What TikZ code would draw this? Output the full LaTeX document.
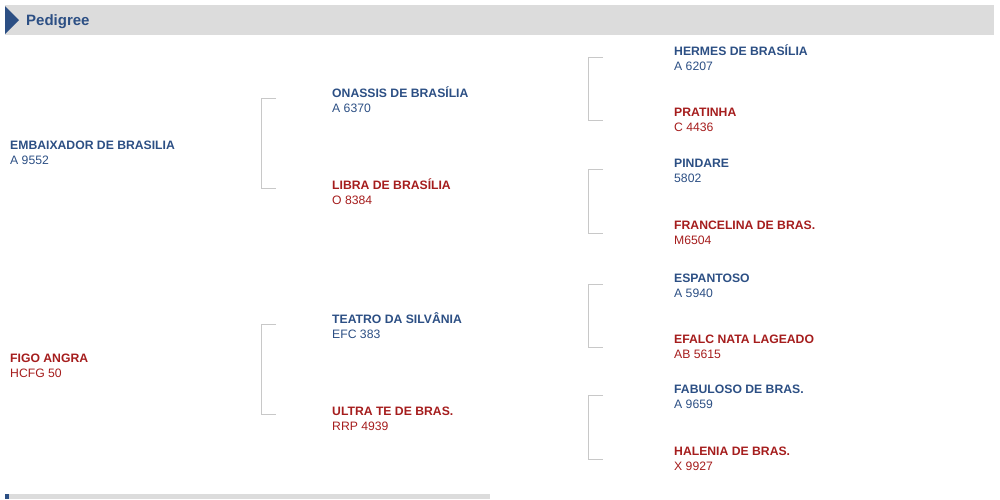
\documentclass[tikz,border=0pt]{standalone}
\usepackage{fontspec}
\setmainfont{Liberation Sans}
\usetikzlibrary{calc}

\definecolor{pedblue}{HTML}{2C4F84}
\definecolor{pedred}{HTML}{A51D1D}
\definecolor{bargrey}{HTML}{DCDCDC}
\definecolor{linegrey}{HTML}{C8C8C8}

\tikzset{%
  every horse/.style={
    anchor=base west,
    inner sep=0pt,
    font=\fontsize{12.2}{14}\selectfont\bfseries
  },
  horse reg/.style={
    anchor=base west,
    inner sep=0pt,
    font=\fontsize{12.2}{14}\selectfont
  },
  horse m/.style={text=pedblue},
  horse f/.style={text=pedred},
  bracket/.style={
    draw=linegrey,
    line width=1pt
  },
}

\begin{document}
\begin{tikzpicture}[x=1pt, y=-1pt]
            \useasboundingbox (0,0) rectangle (1000,499);

            % header and footer bars
            \fill [bargrey] (5,5) rectangle (994,35);
            \fill [pedblue] (5,6) -- (19,20) -- (5,34) -- cycle;
            \node [every horse, text=pedblue, font=\fontsize{15}{18}\selectfont\bfseries] (title) at (26,25) {Pedigree};
            \fill [bargrey] (5,494) rectangle (490,499);
            \fill [pedblue] (5,494) rectangle (9,499);

            \foreach \n/\r/\s/\y [count=\i] in {EMBAIXADOR DE BRASILIA/A 9552/m/149, FIGO ANGRA/HCFG 50/f/362}
              {
              \node [every horse, horse \s] (g1-\i) at (10,\y) {\n};
              \node [horse reg, horse \s] (g1-\i-reg) at (10,\y+15.5) {\r};
              }

            \foreach \n/\r/\s/\y [count=\i] in {ONASSIS DE BRASÍLIA/A 6370/m/97, LIBRA DE BRASÍLIA/O 8384/f/189,
                TEATRO DA SILVÂNIA/EFC 383/m/323, ULTRA TE DE BRAS./RRP 4939/f/415}
              {
              \node [every horse, horse \s] (g2-\i) at (332,\y) {\n};
              \node [horse reg, horse \s] (g2-\i-reg) at (332,\y+15.5) {\r};
              }

            \foreach \n/\r/\s/\y [count=\i] in {HERMES DE BRASÍLIA/A 6207/m/55, PRATINHA/C 4436/f/116,
                PINDARE/5802/m/167, FRANCELINA DE BRAS./M6504/f/229,
                ESPANTOSO/A 5940/m/282, EFALC NATA LAGEADO/AB 5615/f/343,
                FABULOSO DE BRAS./A 9659/m/393, HALENIA DE BRAS./X 9927/f/455}
              {
              \node [every horse, horse \s] (g3-\i) at (674,\y) {\n};
              \node [horse reg, horse \s] (g3-\i-reg) at (674,\y+15.5) {\r};
              }

            % brackets
            \foreach \a/\b in {1/2,3/4}
              \draw [bracket] ($(g2-\a.base west)+(-56,1)$) -- ++(-15,0) |- ($(g2-\b.base west)+(-56,-1)$);

            \foreach \a/\b in {1/2,3/4,5/6,7/8}
              \draw [bracket] ($(g3-\a.base west)+(-71,2)$) -- ++(-15,0) |- ($(g3-\b.base west)+(-71,4)$);

        \end{tikzpicture}
\end{document}
